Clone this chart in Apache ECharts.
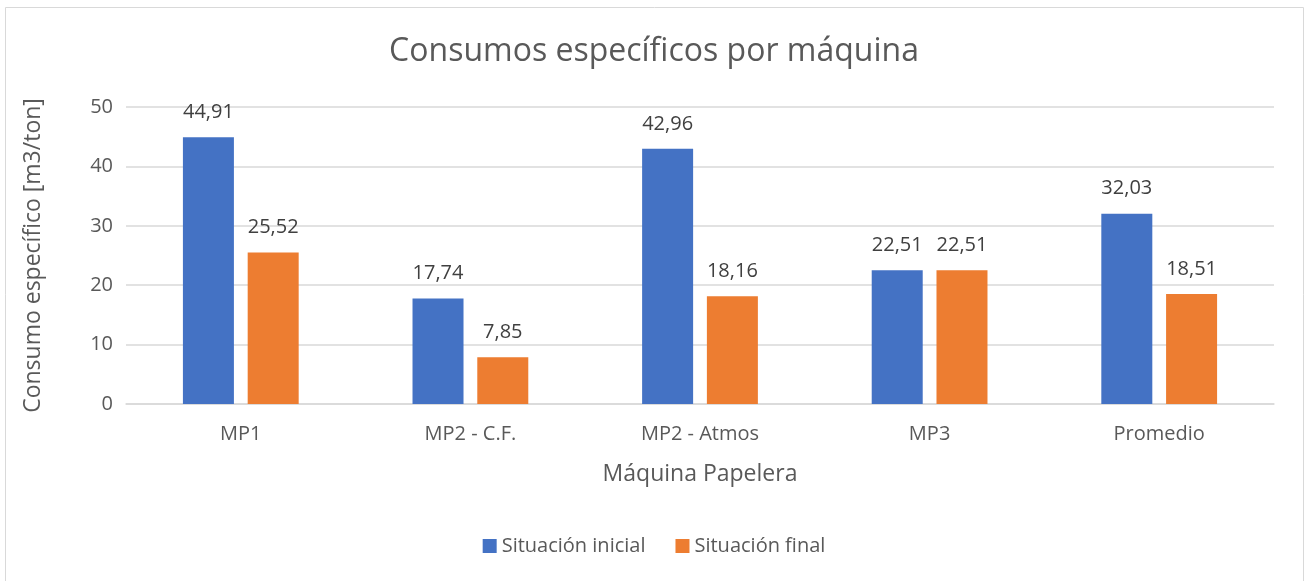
<!DOCTYPE html>
<html><head><meta charset="utf-8">
<script src="https://cdn.jsdelivr.net/npm/echarts@6/dist/echarts.min.js"></script>
<style>html,body{margin:0;padding:0;background:#fff}#c{width:1308px;height:581px}</style>
</head><body><div id="c"></div>
<script>
const categories = ['MP1', 'MP2 - C.F.', 'MP2 - Atmos', 'MP3', 'Promedio'];
const situacionInicial = [44.91, 17.74, 42.96, 22.51, 32.03];
const situacionFinal = [25.52, 7.85, 18.16, 22.51, 18.51];
const seriesNames = ['Situación inicial', 'Situación final'];

const FONT = '"Open Sans", "Noto Sans", sans-serif';
const fmt = p => p.value.toFixed(2).replace('.', ',');
const chart = echarts.init(document.getElementById('c'));
chart.setOption({
  animation: false,
  textStyle: { fontFamily: FONT },
  title: { text: 'Consumos específicos por máquina', left: 'center', top: 31,
    textStyle: { fontFamily: FONT, fontSize: 32, fontWeight: 'normal', color: '#595959' } },
  graphic: [{ type: 'rect', shape: { x: 5.5, y: 7.5, width: 1298, height: 590 },
    style: { fill: 'none', stroke: '#d9d9d9', lineWidth: 1 }, silent: true }],
  legend: { bottom: 20, left: 'center', itemWidth: 14, itemHeight: 14, itemGap: 30, icon: 'rect',
    textStyle: { fontFamily: FONT, fontSize: 20, color: '#595959' } },
  grid: { left: 126, right: 34, top: 107, bottom: 177 },
  xAxis: { type: 'category', data: categories,
    name: 'Máquina Papelera', nameLocation: 'middle', nameGap: 59,
    nameTextStyle: { fontFamily: FONT, fontSize: 23, color: '#595959' },
    axisLine: { lineStyle: { color: '#d9d9d9', width: 1.5 } }, axisTick: { show: false },
    axisLabel: { margin: 20, fontFamily: FONT, fontSize: 20, color: '#595959' } },
  yAxis: { type: 'value', min: 0, max: 50, interval: 10,
    name: 'Consumo específico [m3/ton]', nameLocation: 'middle', nameGap: 81,
    nameTextStyle: { fontFamily: FONT, fontSize: 23, color: '#595959' },
    axisLine: { show: false }, axisTick: { show: false },
    splitLine: { lineStyle: { color: '#d9d9d9', width: 1.5 } },
    axisLabel: { margin: 13, fontFamily: FONT, fontSize: 20, color: '#595959' } },
  series: [
    { name: seriesNames[0], type: 'bar', data: situacionInicial, barWidth: 51, barGap: '27%',
      itemStyle: { color: '#4472c4' },
      label: { show: true, position: 'top', distance: 15, formatter: fmt, fontFamily: FONT, fontSize: 20, color: '#404040' } },
    { name: seriesNames[1], type: 'bar', data: situacionFinal, barWidth: 51,
      itemStyle: { color: '#ed7d31' },
      label: { show: true, position: 'top', distance: 15, formatter: fmt, fontFamily: FONT, fontSize: 20, color: '#404040' } }
  ]
});
</script></body></html>
